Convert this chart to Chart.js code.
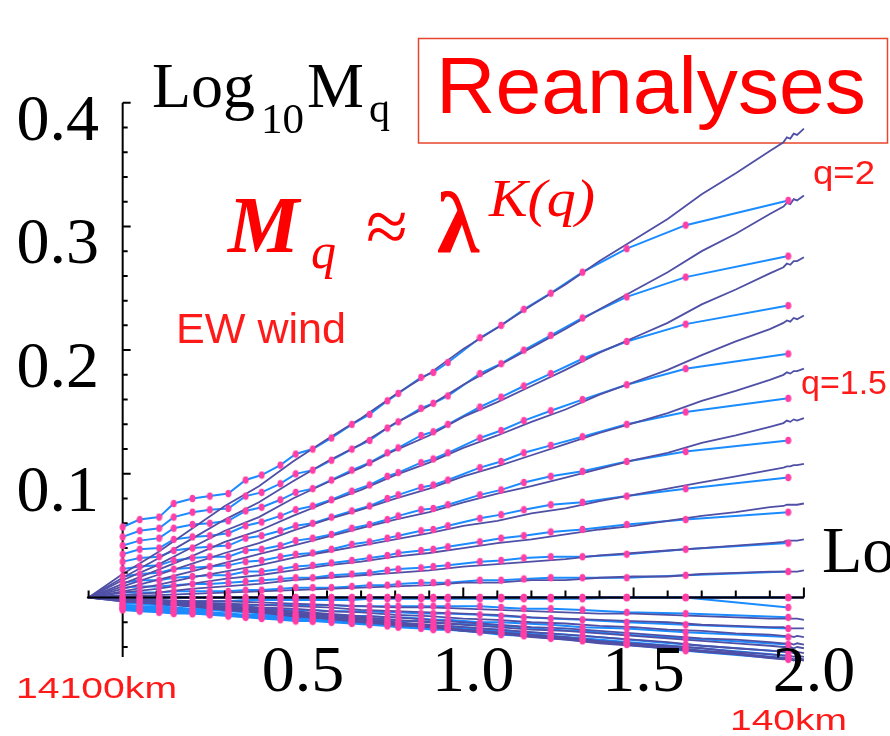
<!DOCTYPE html>
<html>
<head>
<meta charset="utf-8">
<script src="https://cdn.jsdelivr.net/npm/chart.js@4.4.1/dist/chart.umd.min.js"></script>
<style>
  html, body { margin: 0; padding: 0; background: #fff; }
  canvas { display: block; }
</style>
</head>
<body>
<canvas id="moments" width="890" height="736"></canvas>
<script>
'use strict';

// x positions (log10 lambda) of the coarse-grained points (pink dots)
let dotX = [0, 0.05, 0.107, 0.15, 0.205, 0.256, 0.31, 0.361, 0.408, 0.463, 0.508, 0.558, 0.613, 0.673,
  0.725, 0.777, 0.809, 0.876, 0.912, 0.955, 1.049, 1.111, 1.178, 1.257, 1.35, 1.48, 1.653, 1.954];

// x positions of the fine (dark purple) curves
let lineX = [-0.1, 0, 0.1, 0.2, 0.3, 0.4, 0.5, 0.6, 0.7, 0.8, 0.9, 1.0, 1.1, 1.2, 1.3, 1.4, 1.5, 1.6,
  1.7, 1.8, 1.9, 1.94, 1.95, 1.96, 1.97, 1.98, 2.0];

// Log10 Mq, coarse series (blue lines with dots)
let coarseQ20 = [0.057, 0.063, 0.065, 0.076, 0.080, 0.082, 0.084, 0.095, 0.099, 0.107, 0.116, 0.120, 0.129, 0.140, 0.148, 0.159, 0.165, 0.178, 0.182, 0.190, 0.210, 0.220, 0.233, 0.246, 0.263, 0.282, 0.301, 0.321];
let coarseQ19 = [0.049, 0.054, 0.056, 0.065, 0.069, 0.071, 0.072, 0.082, 0.085, 0.092, 0.100, 0.103, 0.111, 0.120, 0.127, 0.137, 0.142, 0.153, 0.157, 0.163, 0.181, 0.189, 0.200, 0.212, 0.226, 0.243, 0.259, 0.276];
let coarseQ18 = [0.042, 0.046, 0.048, 0.056, 0.059, 0.060, 0.062, 0.070, 0.073, 0.079, 0.085, 0.088, 0.095, 0.103, 0.109, 0.117, 0.121, 0.131, 0.134, 0.140, 0.154, 0.162, 0.171, 0.181, 0.193, 0.207, 0.221, 0.236];
let coarseQ17 = [0.035, 0.039, 0.040, 0.047, 0.049, 0.050, 0.052, 0.058, 0.061, 0.066, 0.071, 0.074, 0.079, 0.086, 0.091, 0.098, 0.101, 0.109, 0.112, 0.117, 0.129, 0.135, 0.143, 0.151, 0.160, 0.172, 0.185, 0.197];
let coarseQ16 = [0.029, 0.032, 0.033, 0.038, 0.040, 0.041, 0.042, 0.048, 0.050, 0.054, 0.058, 0.060, 0.065, 0.070, 0.074, 0.080, 0.083, 0.089, 0.091, 0.095, 0.105, 0.110, 0.117, 0.123, 0.130, 0.140, 0.150, 0.161];
let coarseQ15 = [0.023, 0.025, 0.026, 0.030, 0.032, 0.033, 0.033, 0.038, 0.039, 0.042, 0.046, 0.048, 0.051, 0.056, 0.059, 0.063, 0.066, 0.071, 0.072, 0.075, 0.083, 0.087, 0.093, 0.098, 0.102, 0.110, 0.118, 0.127];
let coarseQ14 = [0.017, 0.019, 0.020, 0.023, 0.024, 0.025, 0.026, 0.029, 0.030, 0.033, 0.035, 0.036, 0.039, 0.043, 0.045, 0.048, 0.050, 0.054, 0.055, 0.058, 0.064, 0.067, 0.071, 0.075, 0.077, 0.082, 0.088, 0.097];
let coarseQ13 = [0.012, 0.014, 0.014, 0.016, 0.017, 0.018, 0.018, 0.021, 0.021, 0.023, 0.025, 0.026, 0.028, 0.030, 0.032, 0.034, 0.036, 0.038, 0.039, 0.041, 0.045, 0.048, 0.050, 0.053, 0.055, 0.059, 0.063, 0.069];
let coarseQ12 = [0.008, 0.009, 0.009, 0.010, 0.011, 0.011, 0.012, 0.013, 0.014, 0.015, 0.016, 0.016, 0.018, 0.019, 0.020, 0.022, 0.023, 0.024, 0.025, 0.026, 0.029, 0.030, 0.032, 0.033, 0.033, 0.035, 0.039, 0.044];
let coarseQ11 = [0.004, 0.004, 0.004, 0.005, 0.005, 0.005, 0.005, 0.006, 0.006, 0.007, 0.008, 0.008, 0.008, 0.009, 0.010, 0.010, 0.011, 0.012, 0.012, 0.012, 0.014, 0.014, 0.015, 0.016, 0.016, 0.016, 0.018, 0.021];
let coarseQ10 = [0, 0, 0, 0, 0, 0, 0, 0, 0, 0, 0, 0, 0, 0, 0, 0, 0, 0, 0, 0, 0, 0, 0, 0, 0, 0, 0, 0];
let coarseQ09 = [-0.002, -0.002, -0.003, -0.003, -0.003, -0.003, -0.003, -0.002, -0.002, -0.002, -0.002, -0.002, -0.002, -0.002, -0.001, -0.001, -0.001, -0.001, -0.001, -0.001, -0.001, -0.001, -0.001, -0.001, -0.001, 0, 0, -0.008];
let coarseQ08 = [-0.005, -0.005, -0.006, -0.006, -0.007, -0.007, -0.008, -0.008, -0.009, -0.009, -0.010, -0.010, -0.011, -0.011, -0.011, -0.012, -0.012, -0.013, -0.013, -0.013, -0.014, -0.015, -0.016, -0.017, -0.018, -0.020, -0.022, -0.025];
let coarseQ07 = [-0.007, -0.008, -0.008, -0.009, -0.010, -0.010, -0.011, -0.012, -0.013, -0.013, -0.014, -0.015, -0.016, -0.017, -0.017, -0.018, -0.019, -0.019, -0.020, -0.021, -0.022, -0.023, -0.024, -0.026, -0.027, -0.030, -0.033, -0.038];
let coarseQ06 = [-0.009, -0.010, -0.010, -0.011, -0.012, -0.013, -0.014, -0.015, -0.015, -0.016, -0.017, -0.018, -0.019, -0.020, -0.020, -0.021, -0.022, -0.023, -0.024, -0.024, -0.026, -0.027, -0.029, -0.031, -0.033, -0.036, -0.040, -0.047];
let coarseQ05 = [-0.010, -0.011, -0.012, -0.013, -0.013, -0.014, -0.015, -0.016, -0.017, -0.018, -0.019, -0.019, -0.020, -0.021, -0.022, -0.023, -0.024, -0.025, -0.026, -0.026, -0.028, -0.030, -0.031, -0.033, -0.035, -0.038, -0.043, -0.050];
let coarseQ04 = [-0.009, -0.010, -0.011, -0.012, -0.013, -0.013, -0.014, -0.015, -0.016, -0.017, -0.018, -0.019, -0.019, -0.020, -0.021, -0.022, -0.023, -0.024, -0.025, -0.025, -0.027, -0.029, -0.030, -0.032, -0.034, -0.037, -0.042, -0.049];
let coarseQ03 = [-0.008, -0.009, -0.009, -0.010, -0.011, -0.012, -0.013, -0.014, -0.014, -0.015, -0.016, -0.017, -0.018, -0.019, -0.020, -0.020, -0.021, -0.022, -0.023, -0.023, -0.025, -0.026, -0.028, -0.029, -0.031, -0.034, -0.038, -0.044];
let coarseQ02 = [-0.006, -0.007, -0.007, -0.008, -0.009, -0.009, -0.010, -0.011, -0.011, -0.012, -0.013, -0.013, -0.014, -0.015, -0.015, -0.016, -0.016, -0.017, -0.018, -0.018, -0.020, -0.020, -0.021, -0.022, -0.024, -0.025, -0.028, -0.032];
let coarseQ01 = [-0.004, -0.004, -0.004, -0.005, -0.005, -0.005, -0.005, -0.006, -0.006, -0.006, -0.006, -0.006, -0.006, -0.007, -0.007, -0.007, -0.007, -0.007, -0.007, -0.007, -0.007, -0.008, -0.009, -0.009, -0.010, -0.012, -0.013, -0.016];
let coarseQ00 = [0, 0, 0, 0, 0, 0, 0, 0, 0, 0, 0, 0, 0, 0, 0, 0, 0, 0, 0, 0, 0, 0, 0, 0, 0, 0, 0, 0];

// Log10 Mq, fine series (dark purple curves)
let fineQ20 = [0, 0.019, 0.036, 0.055, 0.074, 0.090, 0.110, 0.128, 0.145, 0.164, 0.181, 0.201, 0.218, 0.236, 0.253, 0.272, 0.289, 0.306, 0.326, 0.343, 0.361, 0.368, 0.372, 0.371, 0.375, 0.374, 0.379];
let fineQ19 = [0, 0.016, 0.031, 0.047, 0.063, 0.077, 0.094, 0.110, 0.124, 0.141, 0.155, 0.172, 0.187, 0.202, 0.217, 0.233, 0.248, 0.263, 0.280, 0.294, 0.310, 0.316, 0.319, 0.318, 0.322, 0.321, 0.325];
let fineQ18 = [0, 0.014, 0.026, 0.040, 0.054, 0.065, 0.080, 0.093, 0.105, 0.119, 0.131, 0.146, 0.158, 0.171, 0.184, 0.198, 0.210, 0.222, 0.237, 0.249, 0.262, 0.267, 0.270, 0.269, 0.272, 0.272, 0.275];
let fineQ17 = [0, 0.011, 0.022, 0.033, 0.045, 0.054, 0.066, 0.077, 0.087, 0.099, 0.109, 0.121, 0.131, 0.142, 0.152, 0.164, 0.174, 0.184, 0.196, 0.207, 0.217, 0.222, 0.224, 0.223, 0.226, 0.225, 0.228];
let fineQ16 = [0, 0.009, 0.018, 0.027, 0.036, 0.044, 0.054, 0.063, 0.071, 0.080, 0.088, 0.098, 0.106, 0.115, 0.124, 0.133, 0.141, 0.149, 0.159, 0.167, 0.176, 0.180, 0.182, 0.181, 0.183, 0.183, 0.185];
let fineQ15 = [0, 0.007, 0.014, 0.021, 0.028, 0.035, 0.042, 0.049, 0.056, 0.063, 0.069, 0.077, 0.084, 0.090, 0.097, 0.104, 0.111, 0.117, 0.125, 0.131, 0.138, 0.141, 0.143, 0.142, 0.144, 0.143, 0.145];
let fineQ14 = [0, 0.005, 0.010, 0.016, 0.021, 0.026, 0.032, 0.037, 0.042, 0.047, 0.052, 0.058, 0.062, 0.068, 0.072, 0.078, 0.083, 0.088, 0.093, 0.098, 0.103, 0.105, 0.106, 0.106, 0.107, 0.107, 0.108];
let fineQ13 = [0, 0.004, 0.007, 0.011, 0.015, 0.018, 0.022, 0.026, 0.029, 0.033, 0.036, 0.040, 0.044, 0.047, 0.051, 0.055, 0.058, 0.062, 0.066, 0.069, 0.073, 0.074, 0.075, 0.075, 0.075, 0.075, 0.076];
let fineQ12 = [0, 0.002, 0.004, 0.007, 0.009, 0.011, 0.014, 0.016, 0.018, 0.020, 0.022, 0.025, 0.027, 0.029, 0.031, 0.034, 0.036, 0.038, 0.040, 0.042, 0.044, 0.045, 0.046, 0.046, 0.046, 0.046, 0.047];
let fineQ11 = [0, 0.001, 0.002, 0.003, 0.004, 0.005, 0.006, 0.007, 0.008, 0.009, 0.010, 0.012, 0.012, 0.014, 0.014, 0.016, 0.017, 0.017, 0.019, 0.020, 0.021, 0.021, 0.021, 0.021, 0.021, 0.021, 0.022];
let fineQ10 = [0, 0, 0, 0, 0, 0, 0, 0, 0, 0, 0, 0, 0, 0, 0, 0, 0, 0, 0, 0, 0, 0, 0, 0, 0, 0, 0];
let fineQ09 = [0, -0.001, -0.002, -0.003, -0.003, -0.004, -0.005, -0.006, -0.007, -0.008, -0.008, -0.009, -0.010, -0.011, -0.012, -0.013, -0.013, -0.014, -0.015, -0.016, -0.017, -0.017, -0.017, -0.017, -0.017, -0.017, -0.018];
let fineQ08 = [0, -0.002, -0.003, -0.005, -0.006, -0.008, -0.009, -0.011, -0.012, -0.014, -0.015, -0.017, -0.018, -0.020, -0.021, -0.023, -0.024, -0.026, -0.027, -0.029, -0.030, -0.031, -0.031, -0.031, -0.032, -0.031, -0.032];
let fineQ07 = [0, -0.002, -0.004, -0.006, -0.008, -0.010, -0.012, -0.014, -0.016, -0.018, -0.020, -0.022, -0.024, -0.026, -0.027, -0.029, -0.031, -0.033, -0.035, -0.037, -0.039, -0.040, -0.040, -0.040, -0.041, -0.040, -0.041];
let fineQ06 = [0, -0.002, -0.005, -0.007, -0.009, -0.011, -0.014, -0.016, -0.018, -0.021, -0.023, -0.026, -0.028, -0.030, -0.032, -0.035, -0.037, -0.039, -0.041, -0.044, -0.046, -0.047, -0.047, -0.047, -0.048, -0.047, -0.048];
let fineQ05 = [0, -0.003, -0.005, -0.007, -0.010, -0.012, -0.015, -0.017, -0.020, -0.022, -0.024, -0.027, -0.029, -0.032, -0.034, -0.037, -0.039, -0.041, -0.044, -0.046, -0.049, -0.050, -0.050, -0.050, -0.051, -0.050, -0.051];
let fineQ04 = [0, -0.003, -0.005, -0.007, -0.010, -0.012, -0.015, -0.017, -0.019, -0.022, -0.024, -0.027, -0.029, -0.031, -0.033, -0.036, -0.038, -0.040, -0.043, -0.045, -0.048, -0.049, -0.049, -0.049, -0.050, -0.049, -0.050];
let fineQ03 = [0, -0.002, -0.004, -0.007, -0.009, -0.011, -0.013, -0.015, -0.017, -0.020, -0.022, -0.024, -0.026, -0.028, -0.030, -0.032, -0.034, -0.036, -0.039, -0.041, -0.043, -0.044, -0.044, -0.044, -0.045, -0.044, -0.045];
let fineQ02 = [0, -0.002, -0.004, -0.006, -0.007, -0.009, -0.011, -0.013, -0.015, -0.016, -0.018, -0.020, -0.022, -0.024, -0.025, -0.027, -0.029, -0.031, -0.033, -0.034, -0.036, -0.037, -0.037, -0.037, -0.038, -0.037, -0.038];
let fineQ01 = [0, -0.001, -0.002, -0.004, -0.005, -0.006, -0.007, -0.008, -0.010, -0.011, -0.012, -0.013, -0.014, -0.016, -0.017, -0.018, -0.019, -0.020, -0.022, -0.023, -0.024, -0.024, -0.025, -0.025, -0.025, -0.025, -0.025];
let fineQ00 = [0, 0, 0, 0, 0, 0, 0, 0, 0, 0, 0, 0, 0, 0, 0, 0, 0, 0, 0, 0, 0, 0, 0, 0, 0, 0, 0];

let coarseSeries = [coarseQ00, coarseQ01, coarseQ02, coarseQ03, coarseQ04, coarseQ05, coarseQ06, coarseQ07,
  coarseQ08, coarseQ09, coarseQ10, coarseQ11, coarseQ12, coarseQ13, coarseQ14, coarseQ15, coarseQ16,
  coarseQ17, coarseQ18, coarseQ19, coarseQ20];
let fineSeries = [fineQ00, fineQ01, fineQ02, fineQ03, fineQ04, fineQ05, fineQ06, fineQ07, fineQ08, fineQ09,
  fineQ10, fineQ11, fineQ12, fineQ13, fineQ14, fineQ15, fineQ16, fineQ17, fineQ18, fineQ19, fineQ20];

// Axis ticks
let xTickValues = [0.5, 1.0, 1.5, 2.0];
let xTickLabels = ['0.5', '1.0', '1.5', '2.0'];
let yTickValues = [0.1, 0.2, 0.3, 0.4];
let yTickLabels = ['0.1', '0.2', '0.3', '0.4'];

const SERIF = "'Liberation Serif', 'Times New Roman', serif";
const SANS = "'Liberation Sans', Arial, sans-serif";
const RED = '#ff1a1a';

// draws text, optionally squeezed/stretched to a given width
function drawText(ctx, s, x, y, font, color, width, align) {
  ctx.save();
  ctx.font = font;
  ctx.fillStyle = color;
  ctx.textBaseline = 'alphabetic';
  ctx.textAlign = align || 'left';
  ctx.translate(x, y);
  if (width) {
    let w = ctx.measureText(s).width;
    ctx.scale(width / w, 1);
  }
  ctx.fillText(s, 0, 0);
  ctx.restore();
}

// pink dot, a bit taller than wide
let dot = document.createElement('canvas');
dot.width = 7;
dot.height = 9;
let dctx = dot.getContext('2d');
dctx.fillStyle = '#ff3fa6';
dctx.beginPath();
dctx.ellipse(3.5, 4.5, 3, 3.8, 0, 0, Math.PI * 2);
dctx.fill();

let datasets = [];

coarseSeries.forEach(function(values) {
  datasets.push({
    data: dotX.map((x, i) => ({ x: x, y: values[i] })),
    showLine: true,
    borderColor: '#1a8cff',
    borderWidth: 2,
    pointRadius: 0,
    tension: 0,
    clip: false,
    order: 3
  });
});

fineSeries.forEach(function(values) {
  datasets.push({
    data: lineX.map((x, i) => ({ x: x, y: values[i] })),
    showLine: true,
    borderColor: '#4f4fa6',
    borderWidth: 1.8,
    pointRadius: 0,
    tension: 0,
    clip: false,
    order: 2
  });
});

let dotsIndex = datasets.length;
datasets.push({
  data: coarseSeries.flatMap(values => dotX.map((x, i) => ({ x: x, y: values[i] }))),
  showLine: false,
  pointStyle: dot,
  pointRadius: 4,
  clip: false,
  order: 1
});

// axes with inward ticks, labels and annotations
const decorations = {
  id: 'decorations',
  beforeDatasetsDraw(chart) {
    let ctx = chart.ctx;
    ctx.save();
    ctx.strokeStyle = '#e8452c';
    ctx.lineWidth = 1.5;
    ctx.strokeRect(418.5, 38.5, 469, 104.5);
    ctx.restore();
    drawText(ctx, 'Reanalyses', 436, 113, '80px ' + SANS, '#ff0000', 430);
  },
  beforeDatasetDraw(chart, args) {
    if (args.index !== dotsIndex) return;
    let ctx = chart.ctx;
    let xs = chart.scales.x;
    let ys = chart.scales.y;
    let x0 = xs.getPixelForValue(0);
    let y0 = ys.getPixelForValue(0);
    ctx.save();
    ctx.strokeStyle = '#000';
    ctx.lineWidth = 2;
    ctx.beginPath();
    ctx.moveTo(x0, ys.getPixelForValue(0.4));
    ctx.lineTo(x0, ys.bottom);
    for (let i = -2; i <= 20; i++) {
      let py = ys.getPixelForValue(i * 0.02);
      ctx.moveTo(x0, py);
      ctx.lineTo(x0 + (i % 5 === 0 ? 8 : 5), py);
    }
    ctx.moveTo(xs.left, y0);
    ctx.lineTo(xs.getPixelForValue(2), y0);
    for (let i = -1; i <= 20; i++) {
      let px = xs.getPixelForValue(i / 10);
      ctx.moveTo(px, y0);
      ctx.lineTo(px, y0 - (i % 5 === 0 ? 10 : 7));
    }
    ctx.stroke();
    ctx.restore();
  },
  afterDraw(chart) {
    let ctx = chart.ctx;
    let xs = chart.scales.x;
    let ys = chart.scales.y;

    yTickValues.forEach(function(v, i) {
      drawText(ctx, yTickLabels[i], 99, ys.getPixelForValue(v) + 37, '66px ' + SERIF, '#000', 0, 'right');
    });
    xTickValues.forEach(function(v, i) {
      drawText(ctx, xTickLabels[i], xs.getPixelForValue(v) + 10, 691, '66px ' + SERIF, '#000', 0, 'center');
    });

    // y axis title: Log10 Mq
    drawText(ctx, 'Log', 152, 107, '64px ' + SERIF, '#000');
    drawText(ctx, '10', 261, 133, '43px ' + SERIF, '#000');
    drawText(ctx, 'M', 307, 107, '64px ' + SERIF, '#000');
    drawText(ctx, 'q', 369, 122, '42px ' + SERIF, '#000');

    // x axis title, cut by the right edge
    drawText(ctx, 'Log', 822, 572, '66px ' + SERIF, '#000');

    // formula  Mq ≈ λ^K(q)
    drawText(ctx, 'M', 228, 252, 'bold italic 80px ' + SERIF, '#ff0000');
    drawText(ctx, 'q', 311, 268, 'italic 50px ' + SERIF, '#ff0000');
    drawText(ctx, '\u2248', 366, 252, '76px ' + SERIF, '#ff0000');
    drawText(ctx, '\u03bb', 437, 252, 'bold 86px ' + SERIF, '#ff0000');
    drawText(ctx, 'K(q)', 489, 216, 'italic 52px ' + SERIF, '#ff0000', 106);

    drawText(ctx, 'EW wind', 176, 343, '42px ' + SANS, RED, 170);
    drawText(ctx, 'q=2', 813, 184, '34px ' + SANS, RED, 62);
    drawText(ctx, 'q=1.5', 801, 394, '34px ' + SANS, RED);
    drawText(ctx, '14100km', 16, 698, '30px ' + SANS, RED, 161);
    drawText(ctx, '140km', 730, 730, '30px ' + SANS, RED, 117);
  }
};

const ctx = document.getElementById('moments');
new Chart(ctx, {
  type: 'scatter',
  data: { datasets: datasets },
  options: {
    responsive: false,
    animation: false,
    events: [],
    layout: {
      padding: { left: 86.9, right: 86.1, top: 102.7, bottom: 79.1 }
    },
    scales: {
      x: { type: 'linear', min: -0.105, max: 2.0, display: false },
      y: { type: 'linear', min: -0.048, max: 0.4, display: false }
    },
    plugins: {
      legend: { display: false },
      tooltip: { enabled: false }
    }
  },
  plugins: [decorations]
});
</script>
</body>
</html>
